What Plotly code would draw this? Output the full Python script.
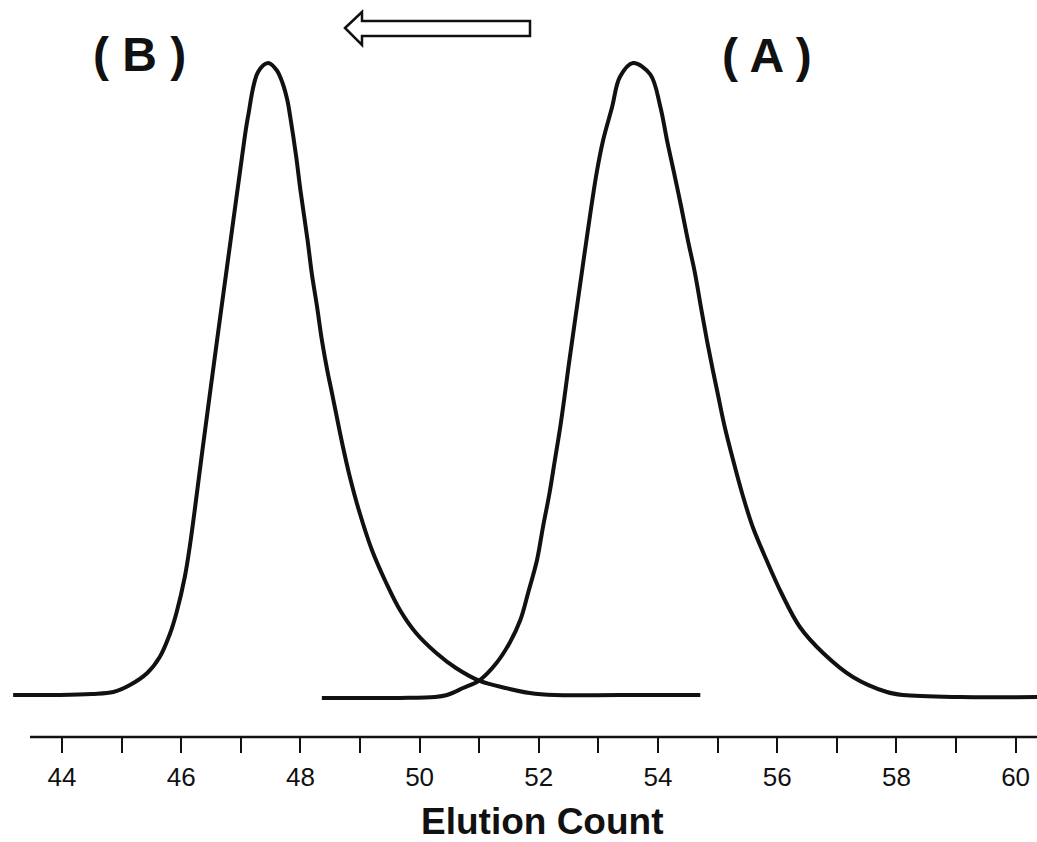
import plotly.graph_objects as go

# ---- data (elution count, relative response 0-100) ----
# Peak B (left, earlier eluting)
b_count = [43.18, 43.97, 44.50, 44.86, 45.14, 45.43, 45.64, 45.81, 45.92, 46.06,
           46.15, 46.37, 46.60, 46.83, 47.02, 47.12, 47.29, 47.46, 47.60, 47.70,
           47.78, 47.83, 47.93, 48.00, 48.12, 48.19, 48.28, 48.36, 48.45, 48.53,
           48.70, 48.83, 48.98, 49.20, 49.44, 49.67, 49.94, 50.28, 50.61, 51.01,
           51.44, 51.85, 52.27, 53.36, 54.71]
b_signal = [0.0, 0.0, 0.16, 0.47, 1.58, 3.48, 6.01, 9.65, 12.97, 18.67,
            23.89, 39.72, 56.01, 71.99, 85.13, 91.46, 98.58, 100.0, 98.89, 96.84,
            94.15, 91.46, 85.13, 79.91, 72.0, 66.77, 61.39, 56.17, 51.42, 47.78,
            39.87, 34.49, 29.27, 22.94, 17.72, 13.45, 9.81, 6.65, 4.27, 2.22,
            1.11, 0.32, 0.0, 0.0, 0.0]

# Peak A (right, later eluting)
a_count = [48.36, 49.67, 50.26, 50.46, 50.73, 51.01, 51.29, 51.51, 51.69, 51.82,
           51.97, 52.07, 52.18, 52.27, 52.36, 52.44, 52.50, 52.64, 52.80, 52.97,
           53.08, 53.23, 53.36, 53.58, 53.87, 54.04, 54.15, 54.27,
           54.39, 54.50, 54.62, 54.72, 54.82, 54.92, 55.00, 55.12, 55.26, 55.41,
           55.59, 55.82, 56.07, 56.38, 56.77, 57.27, 57.84, 58.11, 59.07, 60.36]
a_signal = [-0.47, -0.47, -0.32, 0.0, 1.11, 2.37, 5.06, 8.23, 11.87, 16.14,
            21.36, 26.58, 31.96, 37.18, 42.41, 47.78, 52.06, 61.39, 72.0, 82.59,
            87.82, 93.04, 97.78, 100.0, 98.2, 93.04, 87.82, 82.59,
            77.22, 72.0, 66.77, 61.39, 56.17, 51.42, 47.78, 42.41, 37.18, 31.96,
            26.58, 21.36, 16.14, 10.76, 6.65, 2.85, 0.47, 0.0, -0.32, -0.32]

major_ticks = [44, 46, 48, 50, 52, 54, 56, 58, 60]
minor_ticks = [45, 47, 49, 51, 53, 55, 57, 59]
peak_labels = ["( B )", "( A )"]
x_title = "Elution Count"

# ---- layout helpers (pixel -> paper) ----
W, H = 1037, 842
PLOT_BOTTOM = 737


def px(x):
    return x / W


def py(y):
    return 1 - y / PLOT_BOTTOM


INK = "#111111"
FONT = "Liberation Sans, Arial, Helvetica, sans-serif"

fig = go.Figure()
for xs, ys in [(b_count, b_signal), (a_count, a_signal)]:
    fig.add_trace(go.Scatter(
        x=xs, y=ys, mode="lines",
        line=dict(color=INK, width=4, shape="spline", smoothing=1.0),
        hoverinfo="skip", showlegend=False,
    ))

x_lo = 44 - 62 / 59.6
x_hi = 44 + (W - 62) / 59.6
fig.update_xaxes(
    range=[x_lo, x_hi], showgrid=False, zeroline=False, showline=False,
    tickmode="array", tickvals=major_ticks, ticktext=[str(v) for v in major_ticks],
    ticks="outside", ticklen=15, tickwidth=2, tickcolor=INK,
    tickfont=dict(family=FONT, size=26, color=INK),
    ticklabelstandoff=2,
    minor=dict(tickmode="array", tickvals=minor_ticks, ticks="outside",
               ticklen=15, tickwidth=2, tickcolor=INK, showgrid=False),
)
fig.update_yaxes(range=[-(PLOT_BOTTOM - 695) / 6.32, 695 / 6.32], visible=False)

# axis line (starts a bit right of the plot edge, as in the reference)
fig.add_shape(type="line", xref="x", yref="paper",
              x0=44 + (30 - 62) / 59.6, x1=x_hi, y0=0, y1=0,
              line=dict(color=INK, width=2.5))

# hollow arrow pointing left
pts = [(345, 28), (362, 12), (362, 21), (530, 21), (530, 36), (362, 36), (362, 45)]
path = "M " + " L ".join(f"{px(a):.5f},{py(b):.5f}" for a, b in pts) + " Z"
fig.add_shape(type="path", xref="paper", yref="paper", path=path,
              line=dict(color=INK, width=2.5), fillcolor="white")

# peak labels
for text, cx, cy in [(peak_labels[0], 139, 54), (peak_labels[1], 767, 56)]:
    fig.add_annotation(text=f"<b>{text}</b>", xref="paper", yref="paper",
                       x=px(cx), y=py(cy), xanchor="center", yanchor="middle",
                       showarrow=False, font=dict(family=FONT, size=48, color=INK))

# axis title
fig.add_annotation(text=f"<b>{x_title}</b>", xref="paper", yref="paper",
                   x=px(542), y=py(821), xanchor="center", yanchor="middle",
                   showarrow=False, font=dict(family=FONT, size=37, color=INK))

fig.update_layout(
    width=W, height=H,
    margin=dict(l=0, r=0, t=0, b=H - PLOT_BOTTOM, pad=0),
    paper_bgcolor="white", plot_bgcolor="white",
    showlegend=False,
)

fig.write_html(
    "out.html",
    config={"displayModeBar": False},
    post_script="document.body.style.margin='0';document.body.style.padding='0';"
                "document.body.style.overflow='hidden';",
)
